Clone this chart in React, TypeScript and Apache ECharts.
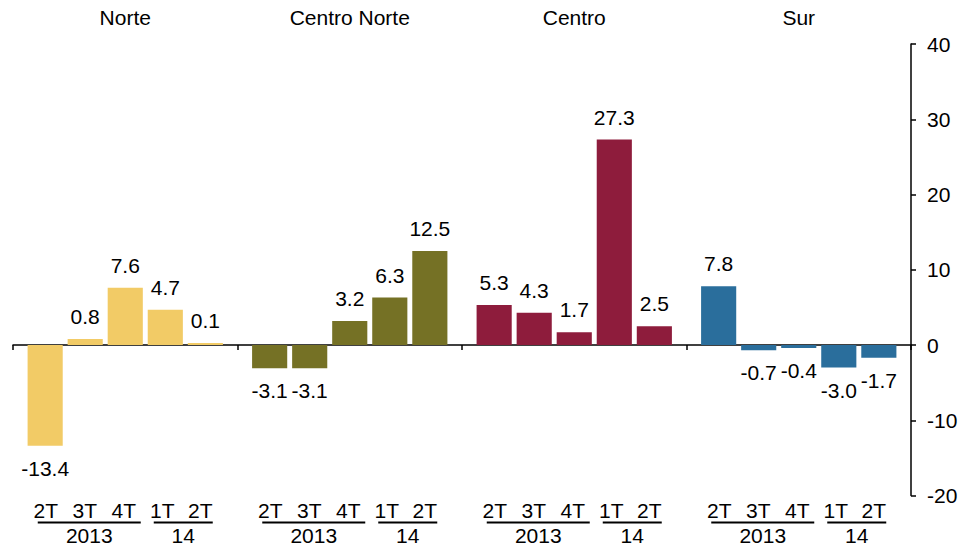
import React, { useEffect, useRef } from "react";
import * as echarts from "echarts";

const regions = ["Norte", "Centro Norte", "Centro", "Sur"];
const regionColors = ["#F2CB66", "#757125", "#8E1C3C", "#2A6E9C"];
const quarters = ["2T 2013", "3T 2013", "4T 2013", "1T 2014", "2T 2014"];
const quarterTicks = ["2T", "3T", "4T", "1T", "2T"];
const yearTicks = ["2013", "14"];
const norte = [-13.4, 0.8, 7.6, 4.7, 0.1];
const centroNorte = [-3.1, -3.1, 3.2, 6.3, 12.5];
const centro = [5.3, 4.3, 1.7, 27.3, 2.5];
const sur = [7.8, -0.7, -0.4, -3.0, -1.7];
const yTicks = { min: -20, max: 40, interval: 10 };

const FONT = "'Liberation Sans', Arial, Helvetica, sans-serif";
const FS = 21;

export default function App() {
  const ref = useRef<HTMLDivElement>(null);
  useEffect(() => {
    if (!ref.current) return;
    const chart = echarts.init(ref.current, null, { renderer: "svg" });
    const byRegion = [norte, centroNorte, centro, sur];
    const series = quarters.map((q, qi) => ({
      name: q,
      type: "bar",
      xAxisIndex: 0,
      barGap: "14%",
      barCategoryGap: "13%",
      barMinHeight: 2,
      data: byRegion.map((vals, ri) => {
        const v = vals[qi];
        return {
          value: v,
          itemStyle: { color: regionColors[ri] },
          label: { position: v < 0 ? "bottom" : "top" },
        };
      }),
      label: {
        show: true,
        distance: 12,
        fontSize: FS,
        color: "#000",
        fontFamily: FONT,
        formatter: (p: any) => Number(p.value).toFixed(1),
      },
    }));

    const bottomLabel =
      `{a|${quarterTicks[0]}}{a|${quarterTicks[1]}}{a|${quarterTicks[2]}}{b|${quarterTicks[3]}}{b|${quarterTicks[4]}}{p| }` +
      `\n{u1| }{g| }{u2| }` +
      `\n{y1|${yearTicks[0]}}{g| }{y2|${yearTicks[1]}}`;

    chart.setOption({
      animation: false,
      textStyle: { fontFamily: FONT },
      grid: { left: 13, right: 50, top: 44, bottom: 49 },
      xAxis: [
        {
          type: "category",
          data: regions,
          position: "bottom",
          axisLine: { onZero: true, lineStyle: { color: "#000", width: 1.5 } },
          axisTick: { show: true, length: 5, lineStyle: { color: "#000", width: 1.5 } },
          axisLabel: { show: false },
          splitLine: { show: false },
        },
        {
          type: "category",
          data: regions,
          position: "bottom",
          axisLine: { show: false, onZero: false },
          axisTick: { show: false },
          splitLine: { show: false },
          axisLabel: {
            show: true,
            interval: 0,
            margin: 4,
            formatter: () => bottomLabel,
            rich: {
              a: { width: 39, align: "center", fontSize: FS, lineHeight: 22, color: "#000", fontFamily: FONT },
              b: { width: 38, align: "center", fontSize: FS, lineHeight: 22, color: "#000", fontFamily: FONT },
              p: { width: 5, fontSize: 1, color: "transparent", align: "center" },
              u1: { width: 103, height: 2, lineHeight: 2, fontSize: 1, backgroundColor: "#000", color: "transparent", align: "center" },
              u2: { width: 59, height: 2, lineHeight: 2, fontSize: 1, backgroundColor: "#000", color: "transparent", align: "center" },
              g: { width: 13, fontSize: 1, color: "transparent", align: "center" },
              y1: { width: 103, align: "center", fontSize: FS, lineHeight: 24, color: "#000", fontFamily: FONT },
              y2: { width: 59, align: "center", fontSize: FS, lineHeight: 24, color: "#000", fontFamily: FONT },
            },
          },
        },
        {
          type: "category",
          data: regions,
          position: "top",
          axisLine: { show: false, onZero: false },
          axisTick: { show: false },
          splitLine: { show: false },
          axisLabel: { show: true, interval: 0, margin: 16, fontSize: FS, color: "#000", fontFamily: FONT },
        },
      ],
      yAxis: {
        type: "value",
        position: "right",
        min: yTicks.min,
        max: yTicks.max,
        interval: yTicks.interval,
        axisLine: { show: true, lineStyle: { color: "#000", width: 1.5 } },
        axisTick: { show: true, length: 5, lineStyle: { color: "#000", width: 1.5 } },
        splitLine: { show: false },
        axisLabel: { margin: 16, fontSize: FS, color: "#000", fontFamily: FONT },
      },
      series,
    });
    return () => chart.dispose();
  }, []);
  return (
    <div
      ref={ref}
      style={{ position: "fixed", left: 0, top: 0, width: 961, height: 546, background: "#fff" }}
    />
  );
}
